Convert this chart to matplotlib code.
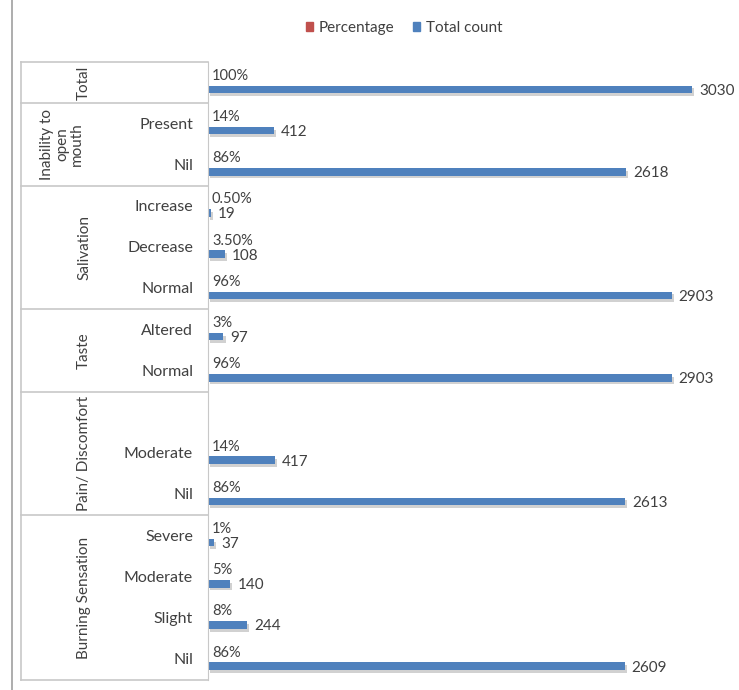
import matplotlib.pyplot as plt
import matplotlib.transforms as mtransforms
import matplotlib.patheffects as pe
from matplotlib.lines import Line2D
from matplotlib.patches import Patch
import numpy as np

plt.rcParams['font.family'] = ['Lato', 'DejaVu Sans']

groups = ['Total', 'Inability to\nopen\nmouth', 'Salivation', 'Taste',
          'Pain/ Discomfort', 'Burning Sensation']
group_sizes = [1, 2, 3, 2, 3, 4]
categories = ['', 'Present', 'Nil', 'Increase', 'Decrease', 'Normal', 'Altered',
              'Normal', '', 'Moderate', 'Nil', 'Severe', 'Moderate', 'Slight', 'Nil']
counts = [3030, 412, 2618, 19, 108, 2903, 97, 2903, np.nan, 417, 2613,
          37, 140, 244, 2609]
pct = [1.00, 0.14, 0.86, 0.005, 0.035, 0.96, 0.03, 0.96, np.nan, 0.14, 0.86,
       0.01, 0.05, 0.08, 0.86]
pct_labels = ['100%', '14%', '86%', '0.50%', '3.50%', '96%', '3%', '96%', '',
              '14%', '86%', '1%', '5%', '8%', '86%']

W, H = 739, 690
fig = plt.figure(figsize=(W / 100, H / 100), dpi=100)
ax_left, ax_right = 208, 730
ax_top, ax_bot = 62, 680
ax = fig.add_axes([ax_left / W, 1 - ax_bot / H, (ax_right - ax_left) / W,
                   (ax_bot - ax_top) / H])

blue = '#4f81bd'
red = '#c0504d'
txt = '#404040'
grid = '#c8c8c8'

y = np.arange(len(categories))
h = 0.185
off = 0.167
shadow = [pe.SimplePatchShadow(offset=(1.5, -2), shadow_rgbFace='#999999', alpha=0.45),
          pe.Normal()]
ax.barh(y - off, np.nan_to_num(pct), height=h, color=red, path_effects=shadow)
ax.barh(y + off, np.nan_to_num(counts), height=h, color=blue, path_effects=shadow)

xmax = 3030 * (ax_right - ax_left) / (692 - ax_left)
ax.set_xlim(0, xmax)
ax.set_ylim(len(categories) - 0.5, -0.5)
px = xmax / (ax_right - ax_left)

for i in range(len(categories)):
    if pct_labels[i]:
        ax.text(4 * px, i - off, pct_labels[i], ha='left', va='center',
                fontsize=10.5, color=txt)
    if not np.isnan(counts[i]):
        ax.text(counts[i] + 7 * px, i + off + 0.03, f'{int(counts[i])}',
                ha='left', va='center', fontsize=11, color=txt)

ax.set_xticks([])
ax.set_yticks([])
for s in ['top', 'right', 'bottom']:
    ax.spines[s].set_visible(False)
ax.spines['left'].set_color(grid)

# category table on the left
tr = mtransforms.blended_transform_factory(fig.transFigure, ax.transData)
for i, c in enumerate(categories):
    ax.text(193 / W, i + 0.02, c, transform=tr, ha='right', va='center',
            fontsize=11.5, color=txt)

start = -0.5
bounds = [start]
for n in group_sizes:
    start += n
    bounds.append(start)
for b in bounds:
    ax.add_line(Line2D([21 / W, ax_left / W], [b, b], transform=tr, color=grid,
                       lw=1.2, clip_on=False))
ax.add_line(Line2D([21 / W, 21 / W], [bounds[0], bounds[-1]], transform=tr,
                   color=grid, lw=1.2, clip_on=False))
for g, a, b in zip(groups, bounds[:-1], bounds[1:]):
    gx = 62 / W if '\n' in g else 84 / W
    ax.text(gx, (a + b) / 2, g, transform=tr, rotation=90, ha='center',
            va='center', fontsize=11, color=txt, linespacing=1.05)

# outer border on the far left
fig.add_artist(Line2D([12 / W, 12 / W], [0, 1], color='#a0a0a0', lw=1.2))

handles = [Patch(color=red, label='Percentage'), Patch(color=blue, label='Total count')]
fig.legend(handles=handles, loc='center', bbox_to_anchor=(404 / W, 1 - 28 / H),
           ncol=2, frameon=False, fontsize=11, handlelength=0.5,
           handleheight=0.5, handletextpad=0.35, columnspacing=1.2,
           labelcolor=txt)

plt.savefig('out.png', dpi=100)
